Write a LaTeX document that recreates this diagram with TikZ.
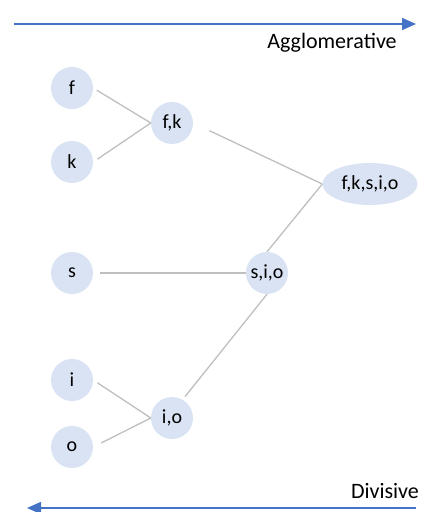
\documentclass[tikz,border=0pt]{standalone}
\usepackage{fontspec}
\setmainfont{Carlito}
\usetikzlibrary{arrows.meta,shapes.geometric}
\definecolor{clusterfill}{RGB}{218,227,243}
\definecolor{flowblue}{RGB}{68,114,196}
\definecolor{linkgray}{RGB}{191,191,191}
\tikzset{
  cluster/.style={circle, fill=clusterfill, minimum size=42pt, inner sep=0pt, font=\fontsize{20}{20}\selectfont},
  link/.style={draw=linkgray, line width=1.3pt},
  flow/.style={draw=flowblue, line width=1.5pt, -{Triangle[length=14pt,width=12pt]}}
}
\begin{document}
\begin{tikzpicture}[x=1pt, y=-1pt]
    \useasboundingbox (0,0) rectangle (429,512);

    % Leaves
    \node[cluster] (f) at (72,88) {f};
    \node[cluster] (k) at (72,162) {k};
    \node[cluster] (s) at (72,273) {s};
    \node[cluster] (i) at (72,380) {i};
    \node[cluster] (o) at (72,447) {o};

    % Merged clusters
    \node[cluster] (fk) at (172,123) {f,k};
    \node[cluster] (io) at (172,418) {i,o};
    \node[cluster] (sio) at (267,273) {s,i,o};
    \node[ellipse, fill=clusterfill, minimum width=95pt, minimum height=42pt, inner sep=0pt, font=\fontsize{20}{20}\selectfont] (all) at (370,184) {f,k,s,i,o};

    % Links between levels
    \draw[link, shorten <=4pt] (f.east) -- (fk.west);
    \draw[link, shorten <=5pt] (k.east) -- (fk.west);
    \draw[link, shorten <=18pt] (fk.east) -- (all.west);
    \draw[link, shorten <=7pt] (s.east) -- (sio.west);
    \draw[link, shorten <=5pt] (i.east) -- (io.west);
    \draw[link, shorten <=9pt] (o.east) -- (io.west);
    \draw[link] (sio.north) -- (all.west);
    \draw[link, shorten <=4pt] (io.60) -- (sio.south);

    % Direction arrows
    \coordinate (aggstart) at (14,24);
    \coordinate (aggend) at (416,24);
    \draw[flow] (aggstart) -- (aggend);
    \node[font=\fontsize{22}{22}\selectfont] (agg) at (332,43) {Agglomerative};

    \coordinate (divstart) at (416,508);
    \coordinate (divend) at (27,508);
    \draw[flow] (divstart) -- (divend);
    \node[font=\fontsize{22}{22}\selectfont] (div) at (385,491) {Divisive};
\end{tikzpicture}
\end{document}
